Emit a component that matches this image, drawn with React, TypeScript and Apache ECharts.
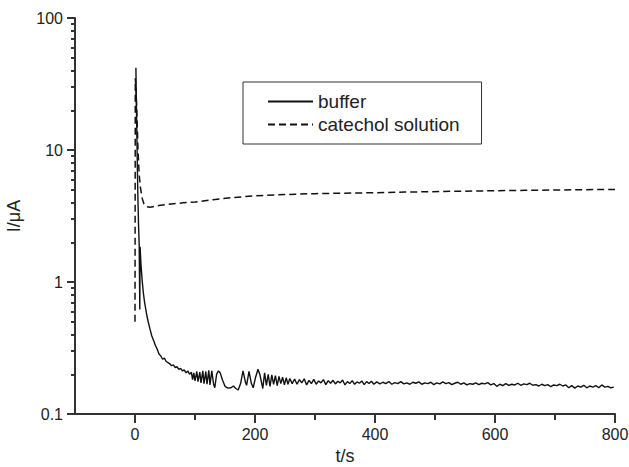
import React, { useEffect, useRef } from "react";
import * as echarts from "echarts";

// ---- data ----
const xMajorTicks = [0, 200, 400, 600, 800];
const xMinorTicks = [100, 300, 500, 700];
const yMajorTicks = [0.1, 1, 10, 100];
const yMinorTicks = [
  0.2, 0.3, 0.4, 0.5, 0.6, 0.7, 0.8, 0.9,
  2, 3, 4, 5, 6, 7, 8, 9,
  20, 30, 40, 50, 60, 70, 80, 90,
];

const seriesNames = ["buffer", "catechol solution"];

// buffer: [t/s, I/µA]
const bufferDecay: [number, number][] = [
  [1.5, 42], [2, 28], [3, 14], [4, 7], [5, 4], [6, 2.6], [7, 1.9], [8, 0.62],
  [8.5, 1.85], [10, 1.35], [12, 1.02], [14, 0.82], [16, 0.7], [18, 0.62],
  [20, 0.55], [22, 0.5], [25, 0.44], [28, 0.39], [31, 0.36], [34, 0.33],
  [37, 0.31], [40, 0.285], [43, 0.275], [46, 0.26], [49, 0.265], [52, 0.25],
  [55, 0.245], [58, 0.24], [61, 0.232], [64, 0.236], [67, 0.225], [70, 0.228],
  [73, 0.218], [76, 0.222], [79, 0.212], [82, 0.216], [85, 0.205], [88, 0.212],
  [91, 0.2], [94, 0.207],
];

const bufferWaves: [number, number][] = [
  [96, 0.182], [98, 0.205], [100, 0.178], [103, 0.21], [105, 0.176], [108, 0.208],
  [110, 0.172], [113, 0.212], [115, 0.17], [118, 0.21], [120, 0.168], [123, 0.214],
  [125, 0.166], [128, 0.212], [131, 0.168], [133, 0.158], [136, 0.2], [139, 0.212],
  [142, 0.205], [146, 0.18], [150, 0.162], [155, 0.157], [160, 0.158], [164, 0.163],
  [168, 0.156], [172, 0.152], [176, 0.17], [180, 0.212], [184, 0.175], [186, 0.165],
  [190, 0.21], [194, 0.17], [197, 0.158], [201, 0.19], [205, 0.218], [208, 0.2],
  [213, 0.156],
];

const bufferDense: [number, number][] = [
  [216, 0.205], [219, 0.165], [222, 0.2], [225, 0.162], [228, 0.198], [231, 0.168],
  [234, 0.195], [237, 0.164], [240, 0.193], [243, 0.17], [246, 0.19], [249, 0.166],
  [252, 0.188], [255, 0.168], [258, 0.186], [262, 0.17], [266, 0.184], [270, 0.168],
  [274, 0.182], [278, 0.172], [282, 0.185], [286, 0.166], [290, 0.18], [294, 0.17],
  [298, 0.183], [302, 0.168], [306, 0.178], [310, 0.172], [314, 0.182], [318, 0.167],
  [322, 0.179], [326, 0.171], [330, 0.18], [334, 0.169], [338, 0.177], [342, 0.172],
  [346, 0.181], [350, 0.166], [354, 0.176], [358, 0.17], [362, 0.179], [366, 0.168],
  [370, 0.175], [374, 0.171], [378, 0.178], [382, 0.167], [386, 0.176], [390, 0.17],
  [394, 0.177], [398, 0.168],
];

const bufferTail: [number, number][] = [
  [403, 0.175], [408, 0.169], [413, 0.174], [418, 0.17], [423, 0.176], [428, 0.168],
  [433, 0.173], [438, 0.17], [443, 0.176], [448, 0.169], [453, 0.172], [458, 0.168],
  [463, 0.174], [468, 0.171], [473, 0.175], [478, 0.168], [483, 0.172], [488, 0.17],
  [493, 0.174], [498, 0.167], [503, 0.172], [508, 0.169], [513, 0.175], [518, 0.17],
  [523, 0.173], [528, 0.167], [533, 0.171], [538, 0.174], [543, 0.168], [548, 0.172],
  [553, 0.166], [558, 0.17], [563, 0.168], [568, 0.172], [573, 0.167], [578, 0.171],
  [583, 0.169], [588, 0.173], [593, 0.166], [598, 0.17], [603, 0.162], [608, 0.168],
  [613, 0.164], [618, 0.17], [623, 0.165], [628, 0.168], [633, 0.166], [638, 0.171],
  [643, 0.165], [648, 0.169], [653, 0.167], [658, 0.171], [663, 0.165], [668, 0.167],
  [673, 0.163], [678, 0.168], [683, 0.164], [688, 0.167], [693, 0.161], [698, 0.166],
  [703, 0.164], [708, 0.168], [713, 0.163], [718, 0.166], [723, 0.158], [728, 0.164],
  [733, 0.157], [738, 0.163], [743, 0.16], [748, 0.165], [753, 0.158], [758, 0.163],
  [763, 0.16], [768, 0.164], [773, 0.158], [778, 0.166], [783, 0.16], [788, 0.162],
  [793, 0.158], [798, 0.16],
];

// catechol solution: [t/s, I/µA]
const catecholData: [number, number][] = [
  [0, 0.5], [0.5, 35], [1.5, 30], [3, 20], [5, 10], [7, 6.5], [9, 5.2], [12, 4.3],
  [15, 3.9], [20, 3.72], [25, 3.68], [30, 3.72], [40, 3.8], [60, 3.9], [80, 3.98],
  [100, 4.03], [130, 4.2], [160, 4.35], [200, 4.5], [250, 4.6], [300, 4.67],
  [380, 4.73], [450, 4.8], [550, 4.88], [650, 4.95], [800, 5.03],
];

const FONT = "Liberation Sans, Arial, Helvetica, sans-serif";
const INK = "#222";
const AXIS = "#333";

export default function App() {
  const ref = useRef<HTMLDivElement>(null);

  useEffect(() => {
    if (!ref.current) return;
    const chart = echarts.init(ref.current, null, { renderer: "svg" });
    const bufferData = [...bufferDecay, ...bufferWaves, ...bufferDense, ...bufferTail];

    const xCommon = {
      type: "value" as const,
      min: -100,
      max: 800,
      position: "bottom" as const,
      splitLine: { show: false },
    };
    const yCommon = {
      type: "log" as const,
      logBase: 10,
      min: 0.1,
      max: 100,
      position: "left" as const,
      splitLine: { show: false },
    };

    chart.setOption({
      animation: false,
      backgroundColor: "#fff",
      grid: { left: 75, right: 14, top: 18, bottom: 53, containLabel: false, outerBoundsMode: "none" },
      legend: {
        data: seriesNames,
        orient: "vertical",
        left: 243,
        top: 82,
        padding: [10, 22, 10, 24],
        itemWidth: 45,
        itemHeight: 14,
        itemGap: 4,
        borderColor: AXIS,
        borderWidth: 1,
        itemStyle: { opacity: 0 },
        textStyle: { fontFamily: FONT, fontSize: 19, color: INK },
      },
      xAxis: [
        {
          ...xCommon,
          name: "t/s",
          nameLocation: "middle",
          nameGap: 33,
          nameMoveOverlap: false,
          nameTextStyle: { fontFamily: FONT, fontSize: 18, color: INK },
          axisLine: { show: true, onZero: false, lineStyle: { color: AXIS, width: 2 } },
          axisTick: { show: true, inside: false, length: 9, customValues: xMajorTicks, lineStyle: { color: AXIS, width: 2 } },
          axisLabel: { show: true, margin: 12, customValues: xMajorTicks, fontFamily: FONT, fontSize: 16, color: INK },
        },
        {
          ...xCommon,
          axisLine: { show: false, onZero: false },
          axisTick: { show: true, inside: false, length: 6, customValues: xMinorTicks, lineStyle: { color: AXIS, width: 2 } },
          axisLabel: { show: false },
        },
      ],
      yAxis: [
        {
          ...yCommon,
          name: "I/\u03bcA",
          nameLocation: "middle",
          nameGap: 52,
          nameMoveOverlap: false,
          nameTextStyle: { fontFamily: FONT, fontSize: 18, color: INK },
          axisLine: { show: true, onZero: false, lineStyle: { color: AXIS, width: 2 } },
          axisTick: { show: true, inside: false, length: 8, customValues: yMajorTicks, lineStyle: { color: AXIS, width: 2 } },
          axisLabel: {
            show: true,
            margin: 12,
            customValues: yMajorTicks,
            fontFamily: FONT,
            fontSize: 16,
            color: INK,
            formatter: (v: number) => String(v),
          },
        },
        {
          ...yCommon,
          axisLine: { show: false, onZero: false },
          axisTick: { show: true, inside: false, length: 4, customValues: yMinorTicks, lineStyle: { color: AXIS, width: 2 } },
          axisLabel: { show: false },
        },
      ],
      series: [
        {
          name: seriesNames[0],
          type: "line",
          xAxisIndex: 0,
          yAxisIndex: 0,
          data: bufferData,
          symbol: "none",
          lineStyle: { color: "#111", width: 1.4, type: "solid" },
          itemStyle: { color: "#111" },
        },
        {
          name: seriesNames[1],
          type: "line",
          xAxisIndex: 0,
          yAxisIndex: 0,
          data: catecholData,
          symbol: "none",
          lineStyle: { color: "#111", width: 1.5, type: [7, 4] },
          itemStyle: { color: "#111" },
        },
      ],
    });

    return () => chart.dispose();
  }, []);

  return (
    <div
      ref={ref}
      style={{ position: "fixed", left: 0, top: 0, width: 629, height: 467, background: "#fff" }}
    />
  );
}
